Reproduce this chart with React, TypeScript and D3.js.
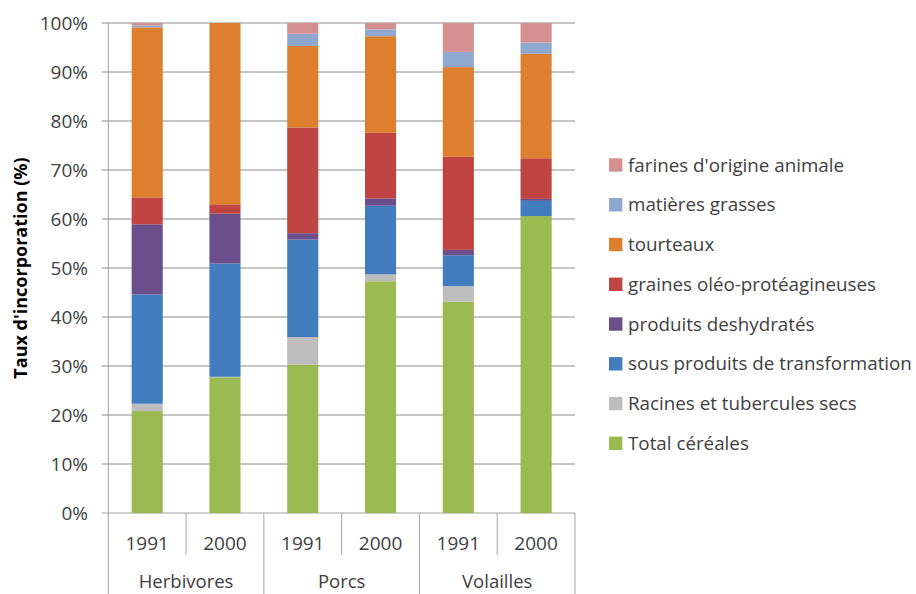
import * as d3 from "d3";
import { useEffect, useRef } from "react";

// categories
const groups = ["Herbivores", "Porcs", "Volailles"];
const years = ["1991", "2000"];

// series, bottom to top, one value per (group, year) bar
const cereales = [20.8, 27.7, 30.3, 47.3, 43.1, 60.6];
const racines = [1.5, 0.1, 5.6, 1.4, 3.2, 0.0];
const sousProduits = [22.3, 23.1, 19.9, 14.0, 6.3, 3.1];
const deshydrates = [14.3, 10.2, 1.3, 1.5, 1.1, 0.4];
const graines = [5.5, 1.9, 21.6, 13.4, 19.0, 8.3];
const tourteaux = [34.7, 37.0, 16.6, 19.7, 18.3, 21.3];
const grasses = [0.4, 0.0, 2.5, 1.4, 3.1, 2.3];
const farines = [0.5, 0.0, 2.2, 1.3, 5.9, 4.0];

const seriesNames = [
  "Total céréales",
  "Racines et tubercules secs",
  "sous produits de transformation",
  "produits deshydratés",
  "graines oléo-protéagineuses",
  "tourteaux",
  "matières grasses",
  "farines d'origine animale",
];
const seriesValues = [cereales, racines, sousProduits, deshydrates, graines, tourteaux, grasses, farines];
const colors = ["#9AB951", "#BDBDBD", "#417CBE", "#6B4F8C", "#C04442", "#DD7F2D", "#8EA8D0", "#D49090"];

const yTicks = d3.range(0, 101, 10);

const W = 916;
const H = 594;
const FONT = "'Open Sans', sans-serif";

export default function App() {
  const ref = useRef<SVGSVGElement>(null);

  useEffect(() => {
    const svg = d3.select(ref.current);
    svg.selectAll("*").remove();

    const left = 108.3;
    const right = 575;
    const top = 23;
    const bottom = 513;

    const bars = groups.flatMap((g) => years.map((yr) => `${g}|${yr}`));
    const rows = bars.map((b, i) => {
      const r: Record<string, any> = { key: b };
      seriesNames.forEach((s, j) => (r[s] = seriesValues[j][i]));
      return r;
    });

    const x = d3.scaleBand().domain(bars).range([left, right]).padding(0);
    const gx = d3.scaleBand().domain(groups).range([left, right]).padding(0);
    const y = d3.scaleLinear().domain([0, 100]).range([bottom, top]);

    const stack = d3.stack<any>().keys(seriesNames);
    const layers = stack(rows);

    // gridlines + y ticks
    svg
      .append("g")
      .selectAll("line")
      .data(yTicks)
      .join("line")
      .attr("x1", left - 6.6)
      .attr("x2", right)
      .attr("y1", (d) => y(d))
      .attr("y2", (d) => y(d))
      .attr("stroke", (d) => (d === 0 ? "#a0a0a0" : "#8c8c8c"))
      .attr("stroke-width", 1);

    svg
      .append("g")
      .selectAll("text")
      .data(yTicks)
      .join("text")
      .attr("x", 88)
      .attr("y", (d) => y(d))
      .attr("dy", "0.35em")
      .attr("text-anchor", "end")
      .attr("font-family", FONT)
      .attr("font-size", 19)
      .attr("fill", "#404040")
      .text((d) => `${d}%`);

    // bars
    const bw = x.bandwidth() * 0.4;
    svg
      .append("g")
      .selectAll("g")
      .data(layers)
      .join("g")
      .attr("fill", (_, i) => colors[i])
      .selectAll("rect")
      .data((d) => d)
      .join("rect")
      .attr("x", (d: any) => (x(d.data.key) as number) + (x.bandwidth() - bw) / 2)
      .attr("width", bw)
      .attr("y", (d) => y(d[1]))
      .attr("height", (d) => Math.max(0, y(d[0]) - y(d[1])));

    // axes lines
    svg
      .append("line")
      .attr("x1", left)
      .attr("x2", left)
      .attr("y1", top)
      .attr("y2", H)
      .attr("stroke", "#a0a0a0");

    // category separators
    bars.forEach((b, i) => {
      const xe = (x(b) as number) + x.bandwidth();
      const long = i % 2 === 1;
      svg
        .append("line")
        .attr("x1", xe)
        .attr("x2", xe)
        .attr("y1", bottom)
        .attr("y2", long ? H : 555)
        .attr("stroke", "#a6a6a6");
    });

    // year labels
    svg
      .append("g")
      .selectAll("text")
      .data(bars)
      .join("text")
      .attr("x", (d) => (x(d) as number) + x.bandwidth() / 2)
      .attr("y", 543)
      .attr("dy", "0.35em")
      .attr("text-anchor", "middle")
      .attr("font-family", FONT)
      .attr("font-size", 19)
      .attr("fill", "#404040")
      .text((d) => d.split("|")[1]);

    // group labels
    svg
      .append("g")
      .selectAll("text")
      .data(groups)
      .join("text")
      .attr("x", (d) => (gx(d) as number) + gx.bandwidth() / 2)
      .attr("y", 581.5)
      .attr("dy", "0.35em")
      .attr("text-anchor", "middle")
      .attr("font-family", FONT)
      .attr("font-size", 18.5)
      .attr("fill", "#404040")
      .text((d) => d);

    // y axis title
    svg
      .append("text")
      .attr("transform", `translate(21, ${(top + bottom) / 2}) rotate(-90)`)
      .attr("text-anchor", "middle")
      .attr("dy", "0.35em")
      .attr("font-family", FONT)
      .attr("font-weight", "bold")
      .attr("font-size", 18)
      .attr("fill", "#000")
      .text("Taux d'incorporation (%)");

    // legend, top entry is the top series
    const legendOrder = seriesNames.map((_, i) => i).reverse();
    const leg = svg
      .append("g")
      .selectAll("g")
      .data(legendOrder)
      .join("g")
      .attr("transform", (_, k) => `translate(609, ${165 + k * 39.76})`);
    leg
      .append("rect")
      .attr("x", 0)
      .attr("y", -6.7)
      .attr("width", 13.4)
      .attr("height", 13.4)
      .attr("fill", (i) => colors[i]);
    leg
      .append("text")
      .attr("x", 19)
      .attr("y", 0)
      .attr("dy", "0.35em")
      .attr("font-family", FONT)
      .attr("font-size", 18.8)
      .attr("fill", "#404040")
      .text((i) => seriesNames[i]);
  }, []);

  return (
    <svg
      ref={ref}
      width={W}
      height={H}
      style={{ position: "absolute", left: 0, top: 0, background: "#fff" }}
    />
  );
}
